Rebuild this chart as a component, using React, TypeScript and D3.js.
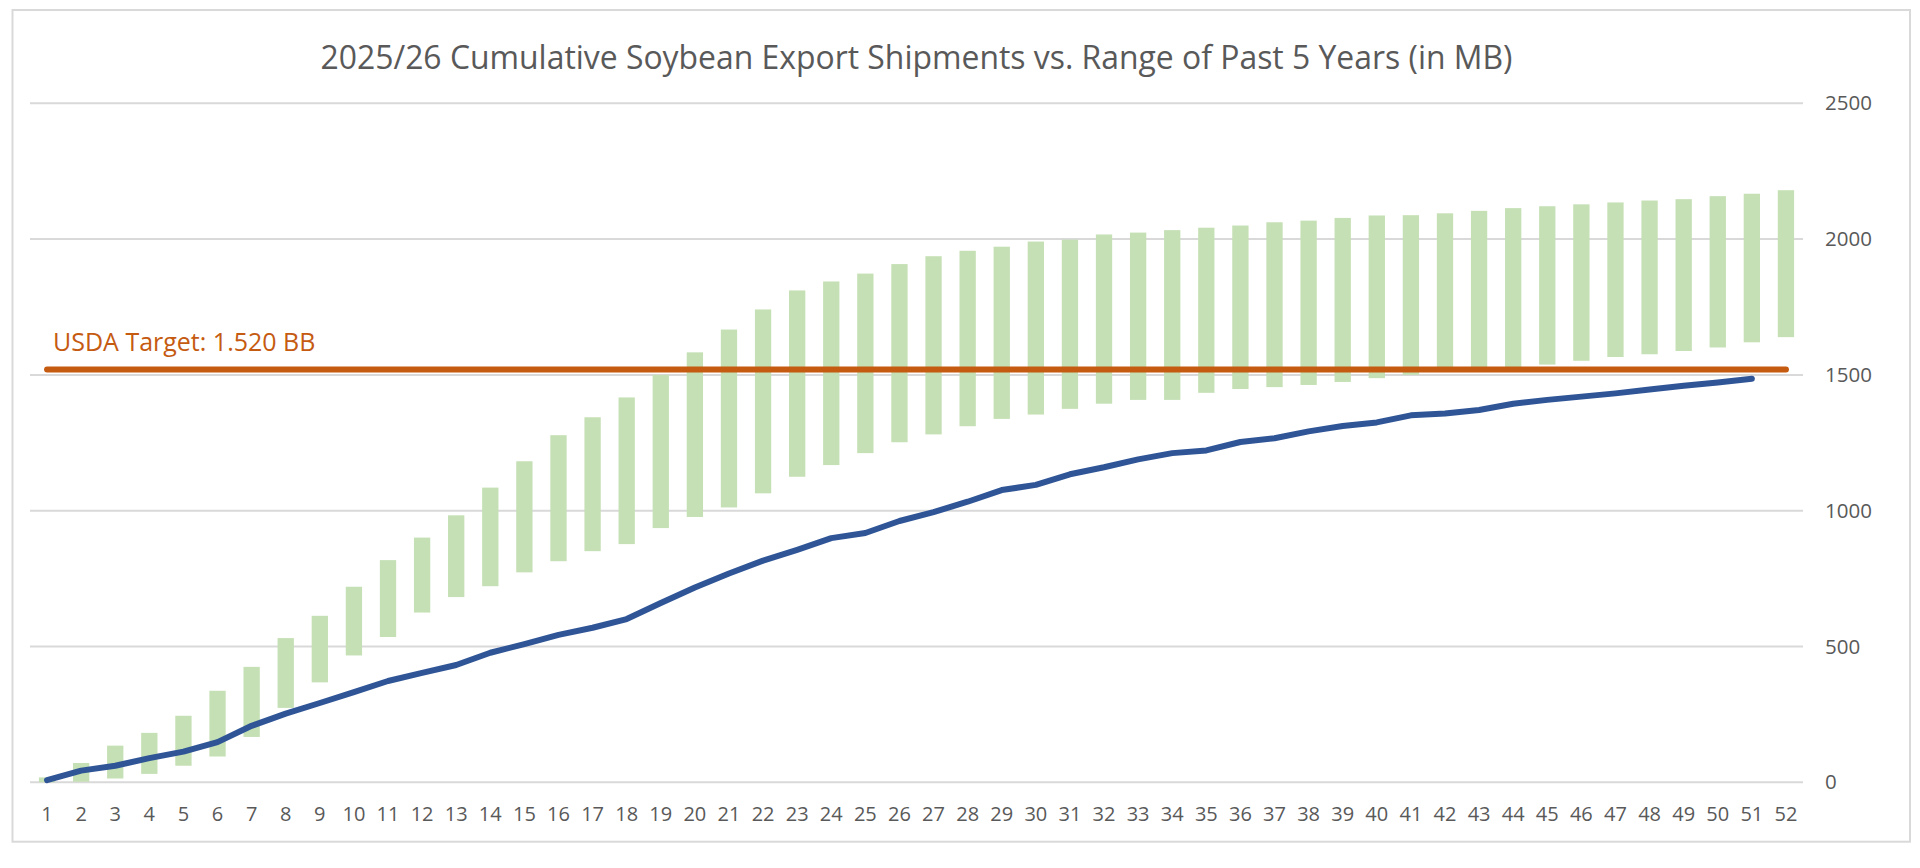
import React from "react";
import * as d3 from "d3";

const title = "2025/26 Cumulative Soybean Export Shipments vs. Range of Past 5 Years (in MB)";
const targetLabel = "USDA Target: 1.520 BB";
const usdaTarget = 1520;

const weeks: number[] = Array.from({ length: 52 }, (_, i) => i + 1);

const rangeLow: number[] = [
  0, 2, 14, 31, 61, 95, 167, 274, 368, 467, 535, 625, 682, 722, 773, 814, 851, 877, 936, 977,
  1012, 1064, 1125, 1168, 1212, 1252, 1281, 1311, 1338, 1354, 1375, 1394, 1408, 1408, 1434, 1448,
  1455, 1463, 1474, 1488, 1500, 1512, 1518, 1525, 1538, 1552, 1566, 1576, 1588, 1601, 1620, 1639,
];

const rangeHigh: number[] = [
  18, 71, 135, 182, 245, 337, 425, 531, 613, 720, 818, 901, 983, 1085, 1182, 1278, 1344, 1417, 1500,
  1583, 1667, 1741, 1811, 1844, 1873, 1908, 1937, 1957, 1972, 1991, 1998, 2017, 2024, 2033, 2042,
  2050, 2062, 2068, 2078, 2087, 2088, 2095, 2104, 2114, 2121, 2128, 2135, 2142, 2147, 2158, 2167, 2180,
];

const shipments: number[] = [
  8, 43, 61, 89, 113, 148, 208, 253, 292, 332, 373, 403, 432, 477, 509, 543, 569, 601, 660, 717,
  769, 816, 856, 899, 918, 962, 995, 1033, 1076, 1095, 1134, 1160, 1189, 1212, 1222, 1253, 1267,
  1292, 1312, 1325, 1351, 1358, 1371, 1394, 1408, 1420, 1432, 1446, 1460, 1472, 1486,
];

const yTicks: number[] = [0, 500, 1000, 1500, 2000, 2500];

const W = 1920;
const H = 868;
const plotLeft = 30;
const plotRight = 1803;
const plotTop = 103.3;
const plotBottom = 782.3;
const font = "'Open Sans', sans-serif";
const textColor = "#595959";

export default function App() {
  const x = d3.scaleBand<number>().domain(weeks).range([plotLeft, plotRight]).padding(0);
  const y = d3.scaleLinear().domain([0, 2500]).range([plotBottom, plotTop]);
  const barW = x.bandwidth() * 0.478;
  const cx = (w: number) => (x(w) as number) + x.bandwidth() / 2;

  const line = d3
    .line<number>()
    .x((_, i) => cx(weeks[i]))
    .y((d) => y(d));

  return (
    <svg
      width={W}
      height={H}
      style={{ position: "absolute", left: 0, top: 0, display: "block", background: "#fff" }}
    >
      <rect x={0} y={0} width={W} height={H} fill="#fff" />
      <rect x={12.5} y={10} width={1897.5} height={831.7} fill="none" stroke="#d9d9d9" strokeWidth={2} />
      <text
        x={(plotLeft + plotRight) / 2}
        y={69.3}
        textAnchor="middle"
        fontFamily={font}
        fontSize={31.9}
        fill={textColor}
      >
        {title}
      </text>
      {yTicks.map((t) => (
        <line key={"g" + t} x1={plotLeft} x2={plotRight} y1={y(t)} y2={y(t)} stroke="#d9d9d9" strokeWidth={2} />
      ))}
      {yTicks.map((t) => (
        <text
          key={"yl" + t}
          x={1825}
          y={y(t)}
          dy="0.35em"
          fontFamily={font}
          fontSize={20.5}
          fill={textColor}
        >
          {t}
        </text>
      ))}
      {weeks.map((w, i) => (
        <rect
          key={"b" + w}
          x={cx(w) - barW / 2}
          y={y(rangeHigh[i])}
          width={barW}
          height={y(rangeLow[i]) - y(rangeHigh[i])}
          fill="#c5e0b4"
        />
      ))}
      <line
        x1={cx(weeks[0])}
        x2={cx(weeks[weeks.length - 1])}
        y1={y(usdaTarget)}
        y2={y(usdaTarget)}
        stroke="#c55a11"
        strokeWidth={6}
        strokeLinecap="round"
      />
      <path
        d={line(shipments) || ""}
        fill="none"
        stroke="#2f5597"
        strokeWidth={6}
        strokeLinejoin="round"
        strokeLinecap="round"
      />
      <text x={53} y={351} fontFamily={font} fontSize={25} fill="#c55a11">
        {targetLabel}
      </text>
      {weeks.map((w) => (
        <text
          key={"xl" + w}
          x={cx(w)}
          y={820.7}
          textAnchor="middle"
          fontFamily={font}
          fontSize={20}
          fill={textColor}
        >
          {w}
        </text>
      ))}
    </svg>
  );
}
